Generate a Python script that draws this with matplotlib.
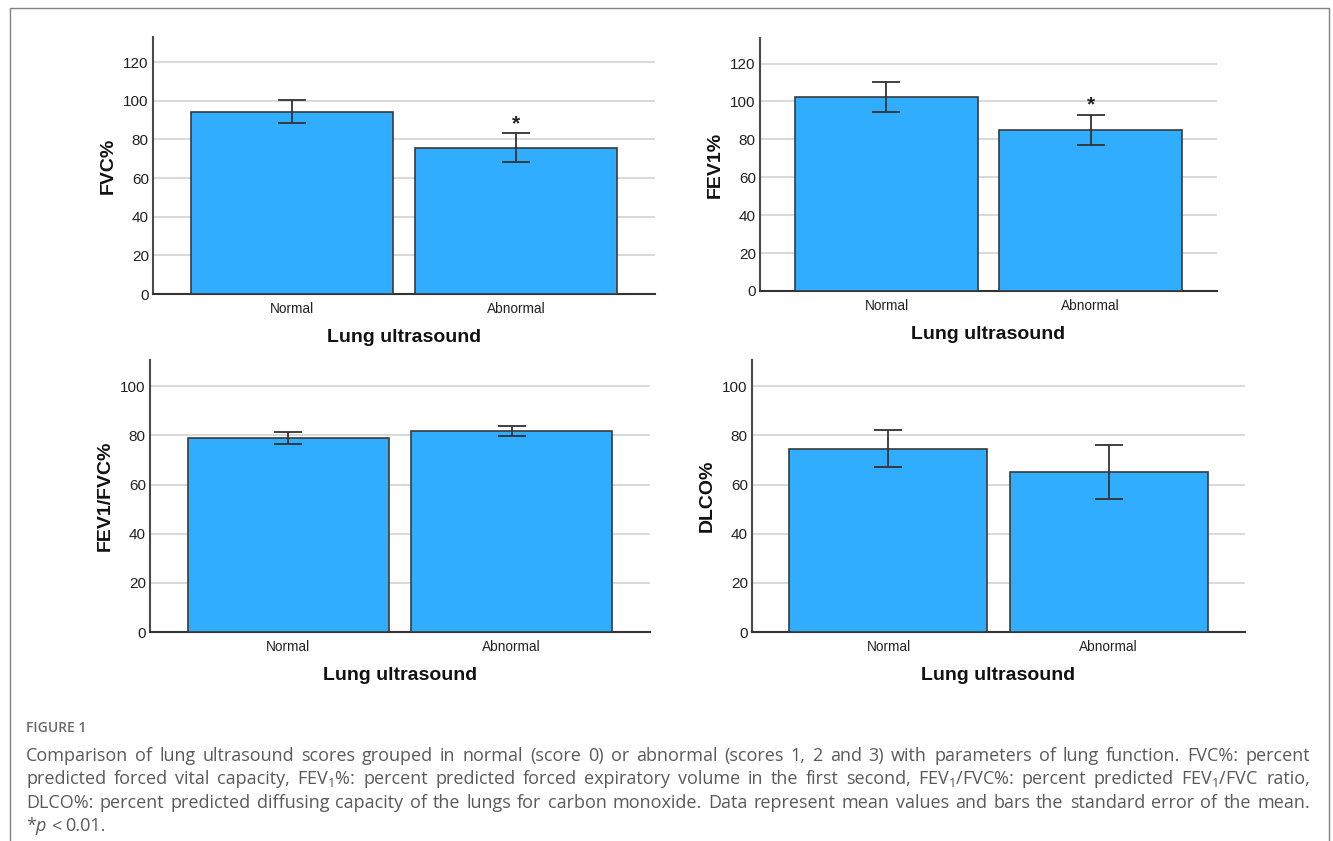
import matplotlib
matplotlib.use('Agg')
import matplotlib.pyplot as plt
from matplotlib.lines import Line2D

plt.rcParams['font.family'] = ['Liberation Sans', 'DejaVu Sans']
plt.rcParams['mathtext.fontset'] = 'custom'
plt.rcParams['mathtext.rm'] = 'Open Sans'
plt.rcParams['mathtext.it'] = 'Open Sans:italic'

# data
groups = ['Normal', 'Abnormal']
fvc_mean = [94.4, 75.8]
fvc_sem = [6.0, 7.4]
fev1_mean = [102.4, 84.9]
fev1_sem = [7.8, 8.1]
ratio_mean = [79.1, 81.9]
ratio_sem = [2.5, 2.1]
dlco_mean = [74.6, 65.0]
dlco_sem = [7.6, 11.0]
signif = [False, True]   # * p < 0.01 vs normal

W, H = 1333, 841
fig = plt.figure(figsize=(W / 100, H / 100), dpi=100)

def px_axes(x0, x1, y0, y1):
    return fig.add_axes([x0 / W, 1 - y1 / H, (x1 - x0) / W, (y1 - y0) / H])

def bar_panel(ax, means, sems, ylabel, ymax, yticks, stars):
    x = range(len(groups))
    ax.bar(x, means, width=0.9, color='#30adfe', edgecolor='#3a3a3a',
           linewidth=1.2, zorder=3)
    ax.errorbar(x, means, yerr=sems, fmt='none', ecolor='#333333',
                elinewidth=1.3, capsize=10, capthick=1.3, zorder=4)
    for i, s in enumerate(stars):
        if s:
            ax.annotate('*', (i, means[i] + sems[i]), xytext=(0, 0),
                        textcoords='offset points', ha='center', va='bottom',
                        fontsize=15, fontweight='bold', color='#222222')
    ax.set_xlim(-0.62, 1.62)
    ax.set_ylim(0, ymax)
    ax.set_yticks(yticks)
    ax.set_xticks(list(x))
    ax.set_xticklabels(groups, fontsize=9.8, color='#222222')
    ax.tick_params(axis='y', labelsize=11, labelcolor='#222222', length=0, pad=3)
    ax.tick_params(axis='x', length=0, pad=6)
    ax.yaxis.grid(True, color='#d9d9d9', linewidth=1.4, zorder=0)
    ax.set_axisbelow(True)
    for side in ['top', 'right']:
        ax.spines[side].set_visible(False)
    ax.spines['left'].set_color('#4a4a4a')
    ax.spines['left'].set_linewidth(1.5)
    ax.spines['bottom'].set_color('#333333')
    ax.spines['bottom'].set_linewidth(1.5)
    ax.set_ylabel(ylabel, fontsize=14, fontweight='bold', color='#111111', labelpad=5)
    ax.set_xlabel('Lung ultrasound', fontsize=14, fontweight='bold', color='#111111', labelpad=9)

ax1 = px_axes(153, 655, 37, 294)
bar_panel(ax1, fvc_mean, fvc_sem, 'FVC%', 133, range(0, 121, 20), signif)
ax2 = px_axes(760, 1217, 38, 291)
bar_panel(ax2, fev1_mean, fev1_sem, 'FEV1%', 133.5, range(0, 121, 20), signif)
ax3 = px_axes(150, 650, 360, 632)
bar_panel(ax3, ratio_mean, ratio_sem, 'FEV1/FVC%', 110.7, range(0, 101, 20), [False, False])
ax4 = px_axes(752, 1245, 360, 632)
bar_panel(ax4, dlco_mean, dlco_sem, 'DLCO%', 110.7, range(0, 101, 20), [False, False])

# outer frame
frame = Line2D([10 / W, 10 / W, 1329 / W, 1329 / W], [0, 1 - 8 / H, 1 - 8 / H, 0],
               transform=fig.transFigure, color='#808080', linewidth=1)
fig.add_artist(frame)

# caption
cap_color = '#5a5a5a'
fig.text(26 / W, 1 - 728 / H, 'FIGURE 1', fontsize=10, family='Open Sans',
         fontweight='semibold', color='#6a6a6a', va='center')

caption_lines = [
    'Comparison of lung ultrasound scores grouped in normal (score 0) or abnormal (scores 1, 2 and 3) with parameters of lung function. FVC%: percent',
    r'predicted forced vital capacity, FEV$_1$%: percent predicted forced expiratory volume in the first second, FEV$_1$/FVC%: percent predicted FEV$_1$/FVC ratio,',
    'DLCO%: percent predicted diffusing capacity of the lungs for carbon monoxide. Data represent mean values and bars the standard error of the mean.',
    r'*$p$ < 0.01.',
]
line_y = [756, 779, 803, 826]
x_left, x_right = 26, 1310
cap_size = 13

fig.canvas.draw()
renderer = fig.canvas.get_renderer()
probe1 = fig.text(0, 0, 'a a', fontsize=cap_size, family='Open Sans')
probe2 = fig.text(0, 0, 'aa', fontsize=cap_size, family='Open Sans')
space = probe1.get_window_extent(renderer).width - probe2.get_window_extent(renderer).width
probe1.remove()
probe2.remove()
for k, (line, yy) in enumerate(zip(caption_lines, line_y)):
    words = line.split(' ')
    texts = [fig.text(0, 1 - yy / H, w, fontsize=cap_size, family='Open Sans',
                      color=cap_color, va='center') for w in words]
    widths = [t.get_window_extent(renderer).width for t in texts]
    if k < len(caption_lines) - 1:
        gap = (x_right - x_left - sum(widths)) / (len(words) - 1)
    else:
        gap = space * 0.8
    xx = x_left
    for t, w in zip(texts, widths):
        t.set_x(xx / W)
        xx += w + gap

fig.savefig('out.png', dpi=100)
